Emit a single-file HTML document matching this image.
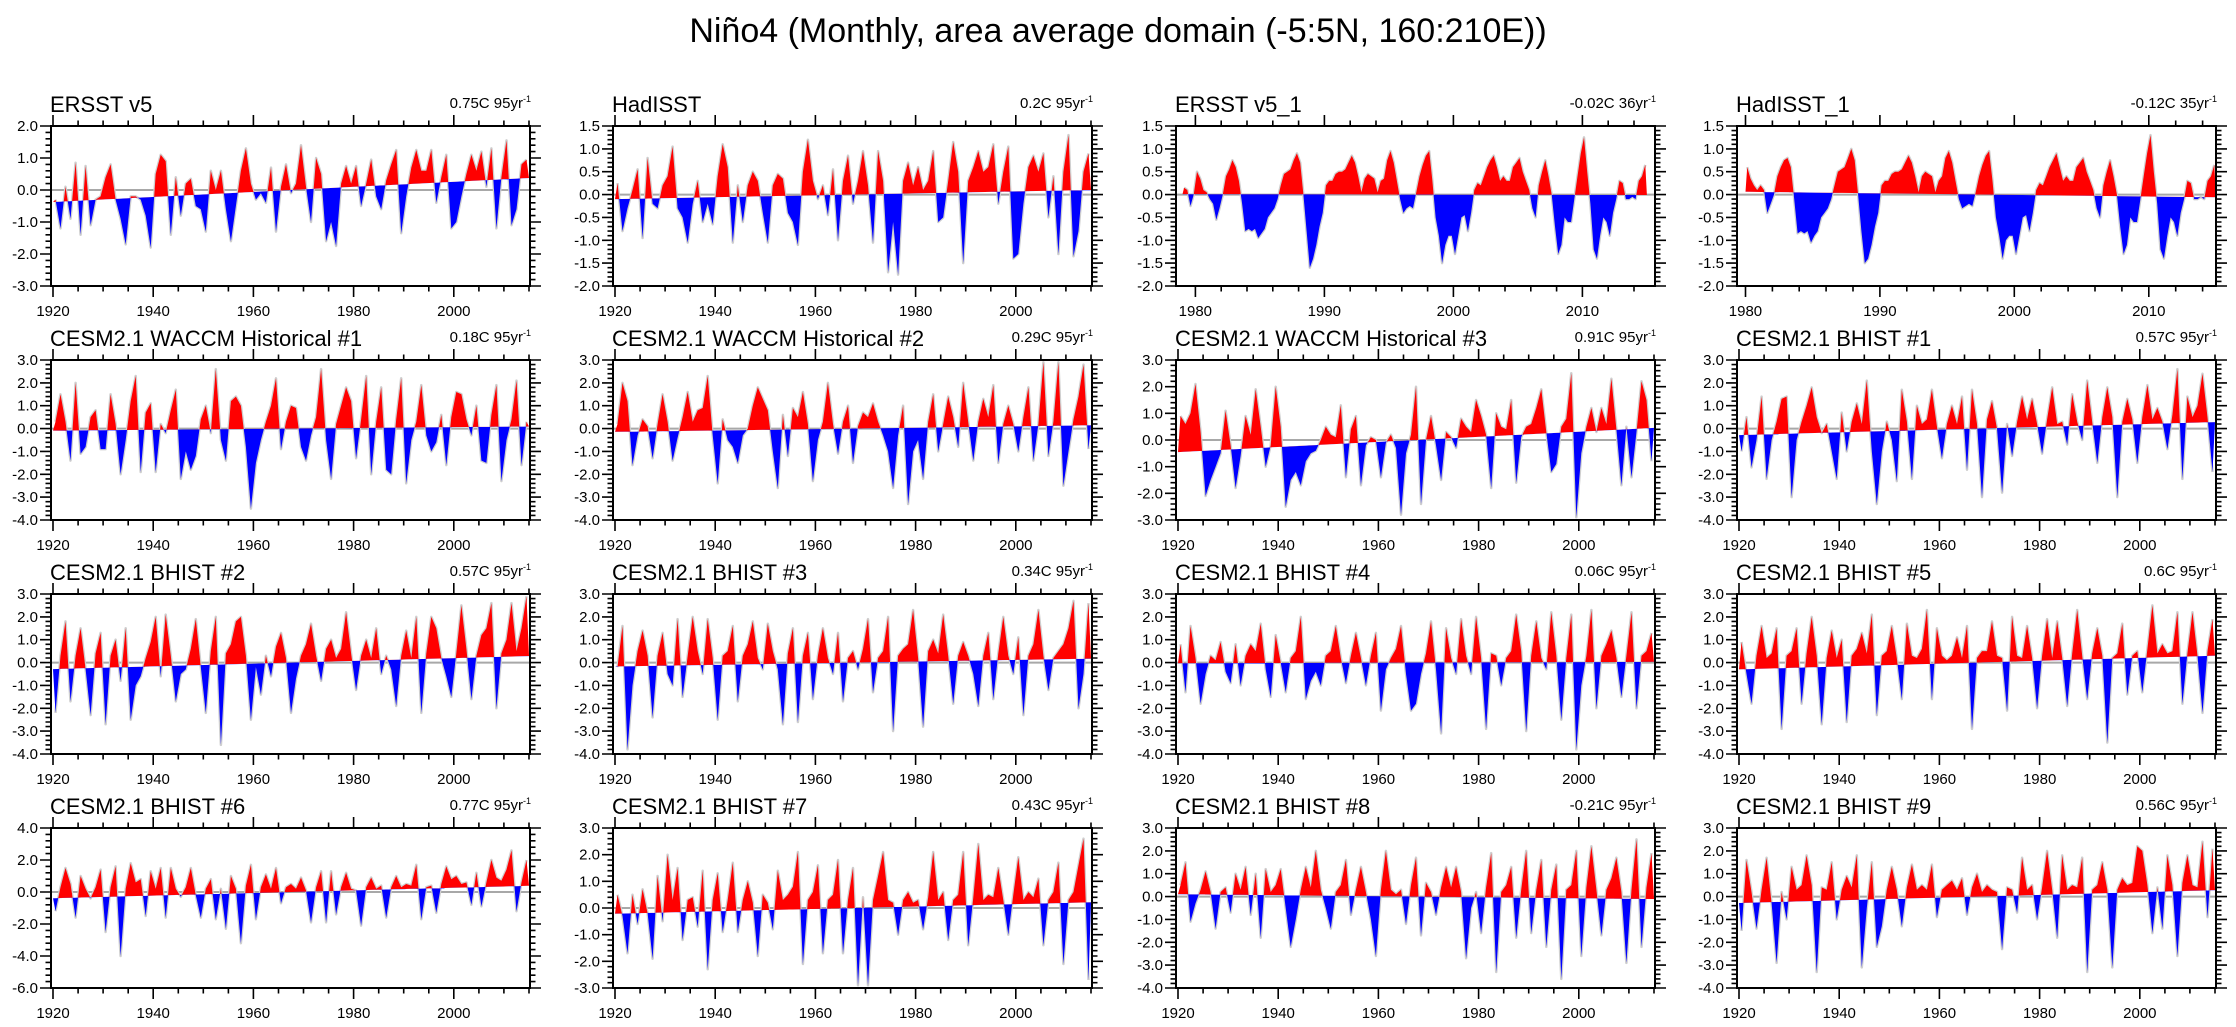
<!DOCTYPE html>
<html><head><meta charset="utf-8">
<style>
html,body{margin:0;padding:0;background:#fff;}
svg{display:block;font-family:"Liberation Sans",Arial,sans-serif;}
</style></head>
<body>
<svg id="chart" width="2236" height="1027" viewBox="0 0 2236 1027" xmlns="http://www.w3.org/2000/svg">
<rect x="0" y="0" width="2236" height="1027" fill="#fff"/>
<text x="1118" y="42" text-anchor="middle" font-size="34" fill="#000">Niño4 (Monthly, area average domain (-5:5N, 160:210E))</text>
</svg>
<script>
// ---- data (annual values for 95-yr panels, quarterly for 35/36-yr panels) ----
const P1_VALS=[-0.3,-1.2,0.1,-0.9,0.85,-1.4,0.75,-1.1,-0.3,-0.2,0.4,0.8,-0.3,-0.9,-1.7,-0.2,-0.2,-0.3,-0.8,-1.8,0.5,1.1,0.9,-1.4,0.4,-0.8,0.2,0.35,-0.5,-0.6,-1.3,0.6,0.0,0.6,-0.6,-1.6,-0.5,0.6,1.3,0.2,-0.3,-0.1,-0.4,0.7,-1.3,0.1,0.8,-0.1,0.2,1.4,0.1,-1.0,1.0,0.5,-1.6,-1.0,-1.75,0.2,0.75,0.2,0.75,-0.5,0.2,0.95,-0.2,-0.6,0.3,0.8,1.25,-1.35,-0.2,0.7,1.25,0.6,0.6,1.25,-0.4,0.4,1.1,-1.2,-1.0,-0.2,0.5,1.1,0.6,1.2,0.1,1.3,-1.2,0.4,1.55,-1.1,-0.6,0.8,0.95];
const P2_VALS=[0.25,-0.8,-0.3,0.1,0.55,-0.95,0.8,-0.2,-0.3,0.2,0.4,1.05,-0.3,-0.5,-1.05,-0.2,0.3,-0.6,-0.2,-0.65,0.4,1.1,0.6,-1.05,0.2,-0.6,0.2,0.5,0.3,-0.4,-1.05,0.2,0.45,0.35,-0.4,-0.6,-1.1,0.5,1.2,0.3,-0.1,0.2,-0.45,0.55,-1.0,0.3,0.85,-0.2,0.3,0.95,0.2,-1.05,0.95,0.3,-1.7,-0.6,-1.75,0.3,0.7,0.2,0.6,0.1,0.3,0.95,-0.6,-0.5,0.3,1.15,0.5,-1.5,0.3,0.6,0.95,0.5,0.6,1.1,-0.2,0.5,1.05,-1.4,-1.3,-0.2,0.6,0.85,0.5,0.9,-0.5,0.4,-1.3,0.5,1.3,-1.35,-0.8,0.5,0.9];
const P3_VALS=[0.15,0.1,-0.25,0.0,0.5,0.35,0.1,0.05,-0.1,-0.2,-0.55,-0.3,0.0,0.4,0.55,0.75,0.6,0.3,-0.2,-0.8,-0.75,-0.8,-0.75,-0.95,-0.85,-0.75,-0.5,-0.4,-0.3,-0.1,0.2,0.45,0.5,0.55,0.75,0.9,0.7,0.0,-0.8,-1.6,-1.4,-1.1,-0.7,-0.4,0.2,0.3,0.3,0.45,0.5,0.5,0.55,0.7,0.85,0.7,0.4,0.05,0.35,0.45,0.4,0.35,0.05,0.3,0.35,0.75,0.95,0.7,0.3,-0.1,-0.4,-0.3,-0.25,-0.3,0.05,0.4,0.65,0.85,0.95,0.3,-0.5,-0.9,-1.5,-1.1,-0.9,-0.9,-1.3,-0.9,-0.5,-0.45,-0.8,-0.4,0.1,0.25,0.2,0.4,0.6,0.75,0.85,0.6,0.3,0.4,0.3,0.3,0.6,0.7,0.8,0.5,0.3,0.1,-0.3,-0.5,0.2,0.5,0.75,0.4,0.0,-0.7,-1.3,-1.1,-0.5,-0.6,-0.6,-0.1,0.4,0.9,1.25,0.5,-0.2,-1.2,-1.4,-0.9,-0.5,-0.6,-0.9,-0.4,-0.1,0.3,0.25,-0.1,-0.1,-0.05,-0.1,0.3,0.4,0.65];
const P4_VALS=[0.6,0.35,0.2,0.1,0.2,0.1,-0.4,-0.2,0.0,0.4,0.6,0.75,0.8,0.6,-0.1,-0.85,-0.8,-0.85,-0.8,-1.05,-0.9,-0.8,-0.5,-0.4,-0.3,-0.1,0.2,0.5,0.55,0.6,0.8,1.0,0.75,0.0,-0.8,-1.5,-1.4,-1.1,-0.7,-0.4,0.2,0.3,0.3,0.45,0.5,0.5,0.55,0.7,0.85,0.7,0.4,0.05,0.4,0.5,0.45,0.4,0.05,0.3,0.4,0.8,0.95,0.7,0.3,-0.1,-0.3,-0.25,-0.2,-0.25,0.05,0.4,0.65,0.85,0.95,0.3,-0.5,-0.9,-1.4,-1.0,-0.9,-0.9,-1.3,-0.9,-0.5,-0.45,-0.8,-0.4,0.1,0.25,0.2,0.4,0.6,0.75,0.9,0.6,0.3,0.4,0.3,0.3,0.6,0.7,0.8,0.5,0.3,0.1,-0.3,-0.5,0.2,0.5,0.75,0.4,0.0,-0.7,-1.3,-1.1,-0.5,-0.6,-0.6,-0.1,0.4,0.9,1.3,0.5,-0.2,-1.2,-1.4,-0.9,-0.5,-0.6,-0.9,-0.4,-0.1,0.3,0.25,-0.1,-0.1,-0.05,-0.1,0.3,0.4,0.65];
const P5_VALS=[0.3,1.5,0.3,-1.4,2.0,-1.1,-0.8,0.5,0.8,-0.9,-0.9,1.5,0.2,-2.0,-0.5,1.2,2.3,-1.9,0.7,1.1,-1.9,0.2,-0.2,0.8,1.7,-2.2,-1.0,-1.8,-1.2,0.4,1.0,-0.2,2.6,-0.5,-1.4,1.2,1.4,1.0,-0.8,-3.5,-1.5,-0.5,0.3,1.0,2.2,-0.9,0.3,1.0,0.9,-0.8,-1.4,-0.3,0.5,2.6,-0.5,-2.2,0.2,1.0,1.8,1.2,-1.3,0.4,2.3,-2.0,0.3,1.8,-1.8,-2.0,0.4,2.2,-2.4,-0.5,0.3,1.9,-0.3,-1.0,-0.6,0.6,-1.6,0.5,1.6,1.5,0.4,-0.3,1.0,-1.4,-1.5,0.6,1.9,-2.3,-0.5,0.4,2.1,-1.6,0.3];
const P6_VALS=[0.2,2.0,1.2,-1.6,-0.3,0.4,0.1,-1.3,0.2,1.5,0.3,-1.4,-0.4,0.5,1.6,0.3,0.8,0.9,2.3,-0.3,-2.4,0.4,-0.5,-0.8,-1.5,-0.3,0.0,1.0,1.8,1.3,0.8,-1.0,-2.6,0.6,-1.2,0.9,0.5,1.6,0.2,-2.3,-0.5,0.3,2.0,0.2,-1.1,0.3,1.0,-1.5,0.1,0.7,0.5,1.1,0.3,-0.3,-1.0,-2.6,-0.3,1.0,-3.3,-1.0,-0.5,-2.2,0.3,1.5,-1.0,0.2,1.4,0.5,-0.8,2.0,0.3,-1.4,0.3,1.3,0.5,1.9,-1.5,0.2,1.0,0.2,-1.0,0.5,1.8,-1.4,0.2,2.9,-1.2,0.3,2.9,-2.5,-1.0,0.4,1.4,2.8,-0.9];
const P7_VALS=[0.9,0.6,1.0,2.1,0.3,-2.1,-1.5,-1.0,-0.5,1.1,-0.2,-1.8,-0.6,0.9,0.2,1.9,0.5,-1.0,-0.2,2.0,0.5,-2.5,-1.5,-1.2,-1.7,-0.8,-0.5,-0.4,0.0,0.5,0.2,0.1,1.3,-1.4,0.4,0.9,-1.7,-0.2,0.1,0.0,-1.4,-0.1,0.2,-0.3,-2.8,-0.5,0.2,2.0,-2.4,0.0,0.9,-0.2,-1.5,0.3,0.1,-0.3,0.8,0.5,0.3,1.5,0.9,0.2,-1.8,1.0,0.5,0.4,1.5,-1.6,0.1,0.5,0.6,1.2,1.9,0.3,-1.2,-0.9,0.5,0.8,2.5,-2.9,-0.5,0.5,1.2,0.3,1.2,0.6,2.3,0.4,-1.7,0.5,-1.4,0.3,2.2,1.5,-0.8];
const P8_VALS=[-1.0,0.5,-1.7,-0.5,1.4,-2.2,-0.5,0.3,1.3,1.4,-3.0,-0.5,0.3,1.0,1.8,0.5,-0.2,0.2,-1.0,-2.2,0.7,-1.0,0.3,1.1,0.2,2.1,-1.0,-3.3,-1.0,0.3,-0.5,-2.3,1.7,0.3,-2.2,1.0,0.2,0.4,1.7,0.1,-1.3,0.2,1.0,0.2,1.4,-1.8,1.7,0.2,-3.0,0.4,1.2,0.0,-2.8,0.2,-1.2,0.3,1.4,0.4,1.3,0.2,-1.1,0.4,1.8,0.2,0.3,-0.7,1.5,0.3,-0.5,2.1,0.3,-1.5,0.5,1.8,0.5,-3.0,0.3,1.3,0.4,-1.5,0.5,1.9,0.4,0.9,0.3,-0.9,0.6,2.6,-2.2,1.4,0.5,1.0,2.4,0.5,-1.9];
const P9_VALS=[-2.2,0.3,1.8,-1.7,0.3,1.5,-0.3,-2.3,0.4,1.3,-2.7,0.3,1.0,-0.8,1.5,-2.5,-1.0,-0.6,0.2,0.9,2.0,-0.6,2.1,0.3,-1.7,-0.5,-0.3,0.6,1.9,-0.2,-2.2,0.5,2.0,-3.6,0.4,0.8,1.8,2.0,0.3,-2.5,-0.2,-1.4,0.3,-0.6,0.7,1.3,0.2,-2.2,-0.7,0.3,0.8,1.7,0.3,-0.8,0.6,1.0,0.2,0.6,2.2,0.4,-1.2,0.3,1.0,0.2,1.5,-0.5,0.3,-0.3,-1.9,0.3,1.4,0.2,2.0,-2.2,0.4,2.0,1.5,0.2,-0.6,-1.5,0.4,2.5,0.6,-1.6,0.3,1.2,1.5,2.6,-2.0,0.4,1.0,2.6,0.5,1.5,2.9];
const P10_VALS=[-0.2,1.6,-3.8,-1.0,0.5,1.4,0.3,-2.4,0.3,1.3,-0.5,-1.0,1.9,-1.5,0.3,2.0,0.5,-0.5,1.9,0.2,-2.5,0.3,0.5,1.6,-1.7,0.3,0.8,1.8,0.2,-0.3,1.7,0.5,-0.3,-2.7,0.4,1.5,-2.6,0.3,1.3,-1.6,0.3,1.5,0.2,-0.5,1.3,-1.7,0.2,0.5,-0.3,0.6,1.9,-1.3,0.2,0.5,2.0,-3.0,0.3,0.6,0.8,2.3,0.2,-2.8,0.5,1.0,0.4,2.1,0.3,-1.8,0.3,0.9,0.3,-0.5,-1.9,0.3,1.3,-1.6,0.4,2.0,0.3,-0.5,1.1,-2.3,0.3,0.8,2.3,0.3,-1.2,0.2,0.5,0.8,1.5,2.7,-2.0,-0.5,2.6];
const P11_VALS=[0.8,-1.3,1.6,0.2,-1.8,-0.5,0.3,0.1,0.9,-0.4,-0.9,0.8,-1.0,0.3,0.8,0.5,1.7,-0.3,-1.5,1.2,0.0,-1.3,0.2,0.5,2.0,-1.6,-0.8,-0.4,-1.0,0.3,0.5,1.6,0.2,-0.9,0.3,1.3,0.2,-1.0,0.3,1.3,-2.1,-0.3,0.2,0.6,1.6,-0.5,-2.1,-1.8,-0.5,0.4,1.8,-0.3,-3.1,1.5,0.2,-0.5,1.9,0.3,-0.5,2.0,0.2,-2.9,0.4,0.3,-1.0,0.2,0.5,2.1,0.5,-3.0,0.3,1.8,0.2,-0.3,2.2,0.3,-2.5,0.2,2.1,-3.8,-1.0,0.3,2.3,-2.0,0.3,0.8,1.4,0.2,-1.5,0.3,2.2,-2.0,0.3,0.5,1.3];
const P12_VALS=[0.9,-0.5,-1.8,0.3,1.6,0.2,0.4,1.5,-2.9,0.3,0.5,1.5,-1.8,0.4,2.0,0.3,-2.7,0.2,1.4,0.2,1.0,-2.6,0.3,0.6,1.3,0.4,2.1,-2.3,0.3,0.5,1.6,0.2,-1.6,1.7,0.3,0.2,0.6,2.3,-1.6,1.5,0.3,0.1,0.3,1.1,0.2,1.6,-2.9,0.2,0.5,0.5,1.8,0.3,0.2,-2.1,2.0,0.3,0.2,1.6,0.2,-2.0,0.3,1.9,0.2,1.8,0.2,-1.9,0.4,2.3,0.3,-1.6,0.4,1.5,0.3,-3.5,0.2,0.4,1.7,-1.4,0.3,0.5,-1.3,0.6,2.5,0.4,0.8,0.4,0.5,2.2,-1.8,0.4,2.2,0.3,-2.2,0.5,1.9];
const P13_VALS=[-1.2,0.3,1.5,0.5,-1.6,1.0,0.2,-0.4,0.3,1.4,-2.5,0.3,1.6,-4.0,0.2,1.8,0.6,0.8,-1.5,1.3,0.2,1.5,-1.6,1.5,0.2,-0.3,0.3,1.5,-0.2,-1.6,0.2,0.8,-1.7,0.2,-2.3,1.0,0.2,-3.2,0.4,1.7,-1.7,0.3,1.1,0.2,1.5,-0.7,0.3,0.5,0.2,0.9,0.1,-1.9,0.3,1.3,-1.9,1.3,-1.4,0.3,1.2,0.2,0.1,-2.1,0.3,0.9,0.2,0.4,-1.6,0.3,1.0,0.3,0.5,0.4,1.7,-1.7,0.3,0.4,-1.3,0.5,1.6,0.8,1.0,0.5,0.6,-0.8,1.2,-0.9,0.6,2.0,0.9,0.7,1.4,2.6,-1.2,0.6,2.0];
const P14_VALS=[0.5,-0.3,-1.7,0.5,-0.6,0.7,-0.2,-1.9,1.2,-0.5,2.0,0.3,1.5,-1.2,0.3,0.4,-0.7,1.4,-2.3,0.3,1.3,-0.9,0.3,1.7,-0.9,0.3,1.0,0.2,-1.8,0.5,0.2,-0.8,1.4,0.3,0.5,0.8,2.1,-2.1,0.3,0.6,1.6,-1.7,0.3,0.5,1.8,-1.7,0.3,1.5,-2.9,0.4,-2.9,0.3,1.2,2.1,0.3,0.2,-1.0,0.3,0.6,0.2,0.3,-0.8,0.4,2.1,0.3,0.6,-1.2,0.3,0.5,2.1,-1.4,0.4,2.4,0.3,0.5,0.4,1.5,0.3,-1.0,0.5,1.9,0.3,0.6,0.4,1.1,-1.4,0.3,0.6,1.7,-2.1,0.3,0.6,1.6,2.6,-2.7];
const P15_VALS=[0.5,1.5,-1.1,-0.3,0.3,1.1,0.2,-1.4,0.2,0.4,-0.7,1.0,0.3,1.3,-0.8,1.0,-1.8,1.2,0.2,0.5,1.2,-0.5,-2.2,-1.0,0.3,1.3,0.4,2.0,0.3,-0.5,-1.4,0.2,0.5,1.6,-0.8,0.3,1.3,0.2,-1.0,-2.6,0.3,2.0,0.3,0.1,0.3,-1.2,0.5,1.7,-1.7,0.6,0.2,-0.8,0.4,1.3,0.4,1.3,0.2,-2.7,-0.5,0.2,-1.6,0.4,1.9,-3.3,0.2,0.5,1.3,-1.8,0.3,2.0,-1.6,0.3,1.6,-2.2,0.3,1.4,-3.6,0.3,0.5,2.0,-2.6,0.4,2.2,0.3,-1.7,0.3,0.8,1.7,0.2,-2.9,0.3,2.5,-2.2,0.4,1.9];
const P16_VALS=[-1.5,1.6,0.2,-1.4,0.3,1.7,-0.3,-2.9,0.2,-1.0,1.3,0.3,0.5,1.8,0.5,-3.3,0.4,0.3,1.5,-1.0,0.3,0.9,0.4,1.8,-3.1,-0.5,1.5,-2.2,-1.3,0.3,1.3,0.3,-1.3,0.4,1.4,0.3,0.5,0.3,1.4,-0.9,0.3,0.5,0.7,0.3,0.8,-0.8,0.4,1.0,0.2,0.5,0.3,0.2,-2.3,0.4,0.3,-0.7,1.7,0.3,0.5,-1.0,0.4,2.0,0.3,-1.8,1.8,0.3,0.5,0.4,1.7,-3.3,0.3,0.5,1.5,0.3,-3.1,0.3,0.8,0.5,0.6,2.2,2.0,0.5,-1.6,0.4,-1.4,1.8,0.5,-2.6,0.6,1.8,0.5,0.4,2.4,-0.9,2.1];

const PANEL_TITLES=["ERSST v5","HadISST","ERSST v5_1","HadISST_1","CESM2.1 WACCM Historical #1","CESM2.1 WACCM Historical #2","CESM2.1 WACCM Historical #3","CESM2.1 BHIST #1","CESM2.1 BHIST #2","CESM2.1 BHIST #3","CESM2.1 BHIST #4","CESM2.1 BHIST #5","CESM2.1 BHIST #6","CESM2.1 BHIST #7","CESM2.1 BHIST #8","CESM2.1 BHIST #9"];
const TREND_VALUES=[0.75,0.2,-0.02,-0.12,0.18,0.29,0.91,0.57,0.57,0.34,0.06,0.6,0.77,0.43,-0.21,0.56];
const TREND_YEARS=[95,95,36,35,95,95,95,95,95,95,95,95,95,95,95,95];
const Y_MIN=[-3,-2,-2,-2,-4,-4,-3,-4,-4,-4,-4,-4,-6,-3,-4,-4];
const Y_MAX=[2,1.5,1.5,1.5,3,3,3,3,3,3,3,3,4,3,3,3];
const Y_STEP=[1,0.5,0.5,0.5,1,1,1,1,1,1,1,1,2,1,1,1];
const START_YEAR=[1920,1920,1979,1980,1920,1920,1920,1920,1920,1920,1920,1920,1920,1920,1920,1920];
const PER_YEAR=[1,1,4,4,1,1,1,1,1,1,1,1,1,1,1,1];
const SERIES=[P1_VALS,P2_VALS,P3_VALS,P4_VALS,P5_VALS,P6_VALS,P7_VALS,P8_VALS,P9_VALS,P10_VALS,P11_VALS,P12_VALS,P13_VALS,P14_VALS,P15_VALS,P16_VALS];

const svg=document.getElementById('chart');
const NS='http://www.w3.org/2000/svg';
function mk(tag,attrs,parent){const e=document.createElementNS(NS,tag);for(const k in attrs)e.setAttribute(k,attrs[k]);parent.appendChild(e);return e;}
const COL_LEFT=[51,613,1176,1737], ROW_TOP=[126,360,594,828], BW=479, BH=160;

for(let p=0;p<16;p++){
  const col=p%4,row=Math.floor(p/4);
  const L=COL_LEFT[col],T=ROW_TOP[row],R=L+BW,B=T+BH;
  const vals=SERIES[p],pyr=PER_YEAR[p],sy=START_YEAR[p];
  let x0,x1,majStep,minStep;
  if(col===2 && row===0){x0=1978.5;x1=2015.63;majStep=10;minStep=2;}
  else if(col===3 && row===0){x0=1979.37;x1=2015.0;majStep=10;minStep=2;}
  else {x0=1919.6;x1=2015.2;majStep=20;minStep=5;}
  const ymin=Y_MIN[p],ymax=Y_MAX[p],ystep=Y_STEP[p];
  const xs=t=>L+(t-x0)/(x1-x0)*BW;
  const ys=v=>T+(ymax-v)/(ymax-ymin)*BH;
  const ts=sy, te=sy+vals.length/pyr;
  const tr=TREND_VALUES[p];
  const trend=t=>-tr/2+tr*(t-ts)/(te-ts);

  const g=mk('g',{},svg);
  
  

  const tt=mk('text',{x:L-1,y:T-14,'font-size':22,fill:'#000'},g);
  tt.textContent=PANEL_TITLES[p];
  
  

  const tl=mk('text',{x:R+1,y:T-18,'font-size':15,'text-anchor':'end',fill:'#000'},g);
  
  
  const s1=mk('tspan',{},tl); s1.textContent=TREND_VALUES[p]+'C '+TREND_YEARS[p]+'yr';
  const s2=mk('tspan',{dy:-6,'font-size':9},tl); s2.textContent='-1';

  const cid='clipbox'+p, rid='clipred'+p, bid='clipblue'+p;
  const defs=mk('defs',{},g);
  const cb=mk('clipPath',{id:cid},defs); mk('rect',{x:L,y:T,width:BW,height:BH},cb);
  const cr=mk('clipPath',{id:rid},defs);
  mk('polygon',{points:`${L},${T} ${R},${T} ${R},${ys(trend(x1))} ${L},${ys(trend(x0))}`},cr);
  const cbl=mk('clipPath',{id:bid},defs);
  mk('polygon',{points:`${L},${B} ${R},${B} ${R},${ys(trend(x1))} ${L},${ys(trend(x0))}`},cbl);

  const pts=vals.map((v,i)=>[xs(sy+(i+0.5)/pyr),ys(v)]);
  const first=[xs(ts),ys(trend(ts))], last=[xs(te),ys(trend(te))];
  const linePts=pts.map(q=>q[0].toFixed(1)+','+q[1].toFixed(1)).join(' ');
  const areaPts=first[0].toFixed(1)+','+first[1].toFixed(1)+' '+linePts+' '+last[0].toFixed(1)+','+last[1].toFixed(1);

  const inner=mk('g',{'clip-path':`url(#${cid})`},g);
  const zl=mk('line',{x1:L,x2:R,y1:ys(0),y2:ys(0),stroke:'#a8a8a8','stroke-width':2},inner);
  
  
  const shadow=mk('polyline',{points:linePts,fill:'none',stroke:'#cfcfcf','stroke-width':2.5,'stroke-linejoin':'round'},inner);
  
  
  const red=mk('polygon',{points:areaPts,fill:'#ff0000','clip-path':`url(#${rid})`},inner);
  
  
  const blue=mk('polygon',{points:areaPts,fill:'#0000ff','clip-path':`url(#${bid})`},inner);
  
  

  const box=mk('rect',{x:L,y:T,width:BW,height:BH,fill:'none',stroke:'#000','stroke-width':2},g);
  
  

  let d='';
  const nMin=Math.round((ymax-ymin)/(ystep/5));
  for(let k=0;k<=nMin;k++){
    const v=ymin+k*ystep/5,y=ys(v).toFixed(1),maj=(k%5===0);
    const len=maj?11:5.5;
    d+=`M${L},${y}h${-len}M${R},${y}h${len}`;
  }
  for(let yr=Math.ceil(x0/minStep)*minStep;yr<=x1;yr+=minStep){
    const x=xs(yr).toFixed(1),maj=(yr%majStep===0);
    const len=maj?11:5.5;
    d+=`M${x},${T}v${-len}M${x},${B}v${len}`;
  }
  const tk=mk('path',{d:d,stroke:'#000','stroke-width':1.6,fill:'none'},g);
  
  

  const nMaj=Math.round((ymax-ymin)/ystep);
  for(let k=0;k<=nMaj;k++){
    const v=ymin+k*ystep;
    const lb=mk('text',{x:L-13,y:ys(v)+5,'font-size':15,'text-anchor':'end',fill:'#000'},g);
    lb.textContent=v.toFixed(1);
    
    
  }
  for(let yr=Math.ceil(x0/majStep)*majStep;yr<=x1;yr+=majStep){
    const lb=mk('text',{x:xs(yr),y:B+30,'font-size':15,'text-anchor':'middle',fill:'#000'},g);
    lb.textContent=String(yr);
    
    
  }
}
</script>
</body></html>
